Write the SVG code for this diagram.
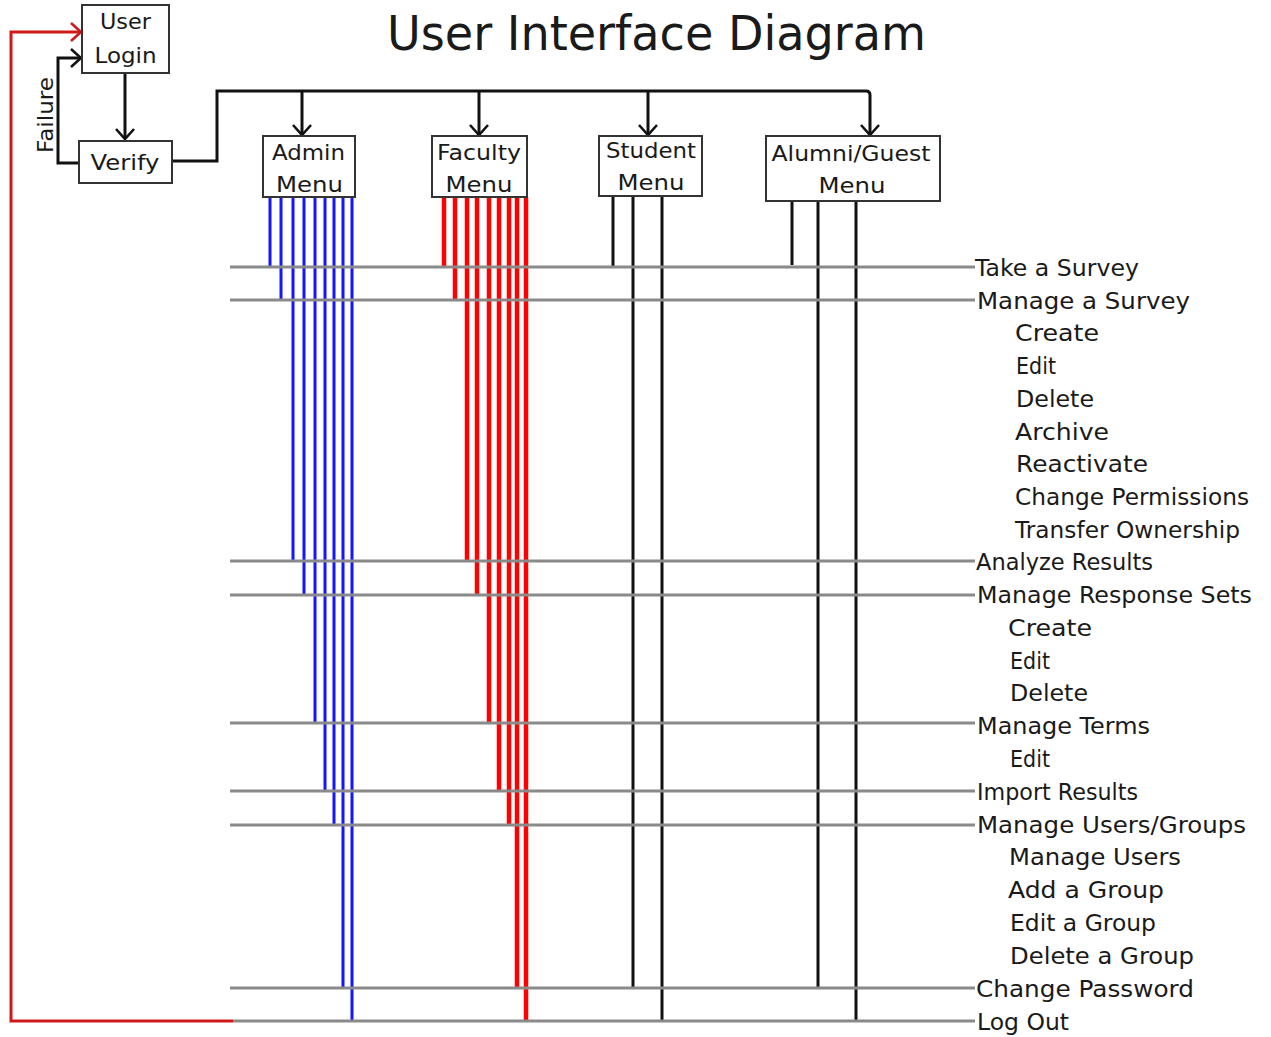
<svg xmlns="http://www.w3.org/2000/svg" width="1271" height="1037" viewBox="0 0 1271 1037">
<style>
text{font-family:"DejaVu Sans","Liberation Sans",sans-serif;fill:#1a1a1a}
.box{fill:#fff;stroke:#333;stroke-width:2}
.bt{font-size:22px;text-anchor:middle}
.lbl{font-size:23px}
.con{fill:none;stroke:#111;stroke-width:3}
.red{fill:none;stroke:#d01818;stroke-width:3}
.gray{stroke:#8a8a8a;stroke-width:3}
.blue{stroke:#1515ff;stroke-width:3}
.rd{stroke:#ff0000;stroke-width:4.5}
.blk{stroke:#111;stroke-width:3}
</style>
<defs>
<marker id="ah" markerUnits="userSpaceOnUse" viewBox="0 0 12 20" markerWidth="12" markerHeight="20" refX="11" refY="10" orient="auto">
<path d="M1,1 L11,10 L1,19" fill="none" stroke="#111" stroke-width="2.6"/>
</marker>
<marker id="ahr" markerUnits="userSpaceOnUse" viewBox="0 0 12 20" markerWidth="12" markerHeight="20" refX="11" refY="10" orient="auto">
<path d="M1,1 L11,10 L1,19" fill="none" stroke="#d01818" stroke-width="2.6"/>
</marker>
</defs>
<rect width="1271" height="1037" fill="#fff"/>
<text x="387" y="50" font-size="48" textLength="539" lengthAdjust="spacingAndGlyphs">User Interface Diagram</text>

<g id="connectors">
<path class="con" d="M125,73 V139" marker-end="url(#ah)"/>
<path class="con" d="M172,161 H217 V91 H866 Q870,91 870,95 V135" marker-end="url(#ah)"/>
<path class="con" d="M302,91 V135" marker-end="url(#ah)"/>
<path class="con" d="M479,91 V135" marker-end="url(#ah)"/>
<path class="con" d="M648,91 V135" marker-end="url(#ah)"/>
<path class="con" d="M79,163 H58 V58 H81" marker-end="url(#ah)"/>
<path class="red" d="M233,1021 H11 V32 H81" marker-end="url(#ahr)"/>
<text transform="translate(53,115) rotate(-90)" font-size="22" text-anchor="middle" textLength="76" lengthAdjust="spacingAndGlyphs">Failure</text>

<!-- admin verticals -->
<g class="blue">
<line x1="270" y1="197" x2="270" y2="267"/>
<line x1="281" y1="197" x2="281" y2="300"/>
<line x1="293" y1="197" x2="293" y2="561"/>
<line x1="304" y1="197" x2="304" y2="595"/>
<line x1="315" y1="197" x2="315" y2="723"/>
<line x1="325" y1="197" x2="325" y2="791"/>
<line x1="334" y1="197" x2="334" y2="825"/>
<line x1="343" y1="197" x2="343" y2="988"/>
<line x1="352" y1="197" x2="352" y2="1021"/>
</g>
<!-- faculty verticals -->
<g class="rd">
<line x1="444" y1="197" x2="444" y2="267"/>
<line x1="455" y1="197" x2="455" y2="300"/>
<line x1="467" y1="197" x2="467" y2="561"/>
<line x1="477" y1="197" x2="477" y2="595"/>
<line x1="489" y1="197" x2="489" y2="723"/>
<line x1="499" y1="197" x2="499" y2="791"/>
<line x1="509" y1="197" x2="509" y2="825"/>
<line x1="517" y1="197" x2="517" y2="988"/>
<line x1="526" y1="197" x2="526" y2="1021"/>
</g>
<!-- student / alumni verticals -->
<g class="blk">
<line x1="613" y1="196" x2="613" y2="267"/>
<line x1="633" y1="196" x2="633" y2="988"/>
<line x1="662" y1="196" x2="662" y2="1021"/>
<line x1="792" y1="201" x2="792" y2="265"/>
<line x1="818" y1="201" x2="818" y2="988"/>
<line x1="856" y1="201" x2="856" y2="1021"/>
</g>
<!-- function lines -->
<g class="gray">
<line x1="230" y1="267" x2="975" y2="267"/>
<line x1="230" y1="300" x2="975" y2="300"/>
<line x1="230" y1="561" x2="975" y2="561"/>
<line x1="230" y1="595" x2="975" y2="595"/>
<line x1="230" y1="723" x2="975" y2="723"/>
<line x1="230" y1="791" x2="975" y2="791"/>
<line x1="230" y1="825" x2="975" y2="825"/>
<line x1="230" y1="988" x2="975" y2="988"/>
<line x1="233" y1="1021" x2="975" y2="1021"/>
</g>
</g>

<g id="user-login"><rect class="box" x="82" y="5" width="87" height="68"/>
<text class="bt" x="125.5" y="29" textLength="51" lengthAdjust="spacingAndGlyphs">User</text>
<text class="bt" x="125.5" y="63" textLength="62" lengthAdjust="spacingAndGlyphs">Login</text></g>
<g id="verify"><rect class="box" x="79" y="141" width="93" height="42"/>
<text class="bt" x="125" y="170" font-size="24" textLength="69" lengthAdjust="spacingAndGlyphs">Verify</text></g>
<g id="admin-menu"><rect class="box" x="263" y="136" width="92" height="61"/>
<text class="bt" x="308.5" y="160" textLength="73" lengthAdjust="spacingAndGlyphs">Admin</text>
<text class="bt" x="309.5" y="192" textLength="67" lengthAdjust="spacingAndGlyphs">Menu</text></g>
<g id="faculty-menu"><rect class="box" x="432" y="136" width="95" height="61"/>
<text class="bt" x="479" y="160" textLength="84" lengthAdjust="spacingAndGlyphs">Faculty</text>
<text class="bt" x="479" y="192" textLength="67" lengthAdjust="spacingAndGlyphs">Menu</text></g>
<g id="student-menu"><rect class="box" x="599" y="136" width="103" height="60"/>
<text class="bt" x="651" y="158" textLength="90" lengthAdjust="spacingAndGlyphs">Student</text>
<text class="bt" x="651" y="190" textLength="67" lengthAdjust="spacingAndGlyphs">Menu</text></g>
<g id="alumni-guest-menu"><rect class="box" x="766" y="136" width="174" height="65"/>
<text class="bt" x="851" y="161" textLength="159" lengthAdjust="spacingAndGlyphs">Alumni/Guest</text>
<text class="bt" x="852" y="193" textLength="67" lengthAdjust="spacingAndGlyphs">Menu</text></g>

<g id="functions" class="lbl">
<text x="975" y="276" textLength="164" lengthAdjust="spacingAndGlyphs">Take a Survey</text>
<text x="977" y="309" textLength="213" lengthAdjust="spacingAndGlyphs">Manage a Survey</text>
<text x="1015" y="341" textLength="84" lengthAdjust="spacingAndGlyphs">Create</text>
<text x="1016" y="374" textLength="40" lengthAdjust="spacingAndGlyphs">Edit</text>
<text x="1016" y="407" textLength="78" lengthAdjust="spacingAndGlyphs">Delete</text>
<text x="1015" y="440" textLength="94" lengthAdjust="spacingAndGlyphs">Archive</text>
<text x="1016" y="472" textLength="132" lengthAdjust="spacingAndGlyphs">Reactivate</text>
<text x="1015" y="505" textLength="234" lengthAdjust="spacingAndGlyphs">Change Permissions</text>
<text x="1015" y="538" textLength="225" lengthAdjust="spacingAndGlyphs">Transfer Ownership</text>
<text x="976" y="570" textLength="177" lengthAdjust="spacingAndGlyphs">Analyze Results</text>
<text x="977" y="603" textLength="275" lengthAdjust="spacingAndGlyphs">Manage Response Sets</text>
<text x="1008" y="636" textLength="84" lengthAdjust="spacingAndGlyphs">Create</text>
<text x="1010" y="669" textLength="40" lengthAdjust="spacingAndGlyphs">Edit</text>
<text x="1010" y="701" textLength="78" lengthAdjust="spacingAndGlyphs">Delete</text>
<text x="977" y="734" textLength="173" lengthAdjust="spacingAndGlyphs">Manage Terms</text>
<text x="1010" y="767" textLength="40" lengthAdjust="spacingAndGlyphs">Edit</text>
<text x="977" y="800" textLength="161" lengthAdjust="spacingAndGlyphs">Import Results</text>
<text x="977" y="833" textLength="269" lengthAdjust="spacingAndGlyphs">Manage Users/Groups</text>
<text x="1009" y="865" textLength="172" lengthAdjust="spacingAndGlyphs">Manage Users</text>
<text x="1008" y="898" textLength="156" lengthAdjust="spacingAndGlyphs">Add a Group</text>
<text x="1010" y="931" textLength="146" lengthAdjust="spacingAndGlyphs">Edit a Group</text>
<text x="1010" y="964" textLength="184" lengthAdjust="spacingAndGlyphs">Delete a Group</text>
<text x="976" y="997" textLength="218" lengthAdjust="spacingAndGlyphs">Change Password</text>
<text x="977" y="1030" textLength="92" lengthAdjust="spacingAndGlyphs">Log Out</text>
</g>
</svg>
